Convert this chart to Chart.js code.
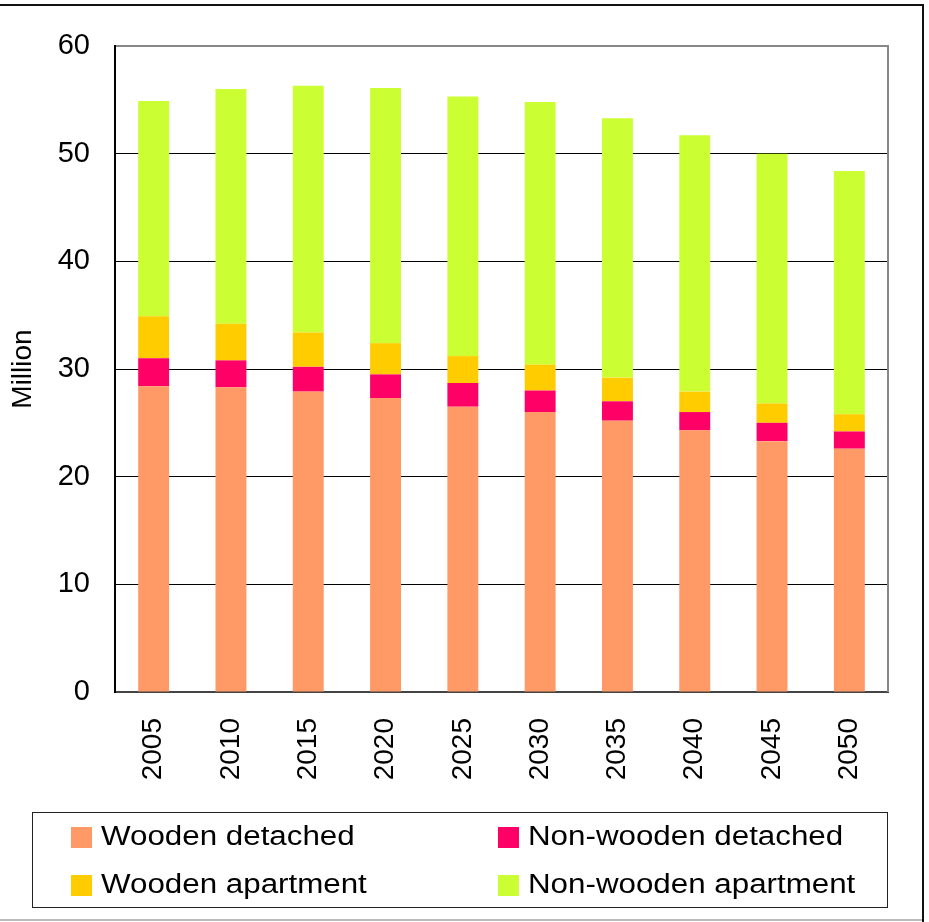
<!DOCTYPE html>
<html>
<head>
<meta charset="utf-8">
<script src="https://cdn.jsdelivr.net/npm/chart.js@4/dist/chart.umd.min.js"></script>
<style>
  html, body { margin: 0; padding: 0; background: #fff; }
  #wrap { width: 929px; height: 922px; position: relative; }
</style>
</head>
<body>
<div id="wrap"><canvas id="chart" width="929" height="922"></canvas></div>
<script>
const years = ["2005", "2010", "2015", "2020", "2025", "2030", "2035", "2040", "2045", "2050"];
const woodenDetached = [28.4, 28.3, 27.9, 27.3, 26.5, 26.0, 25.2, 24.3, 23.3, 22.6];
const nonWoodenDetached = [2.6, 2.5, 2.3, 2.2, 2.2, 2.0, 1.8, 1.7, 1.7, 1.6];
const woodenApartment = [3.9, 3.4, 3.2, 2.9, 2.5, 2.4, 2.2, 1.9, 1.8, 1.6];
const nonWoodenApartment = [20.0, 21.8, 22.9, 23.7, 24.1, 24.4, 24.1, 23.8, 23.2, 22.6];
const yTicks = [0, 10, 20, 30, 40, 50, 60];

const FONT = "'Liberation Sans', Arial, sans-serif";

// two-column legend in a box, plus the outer frame
const boxLegend = {
  id: "boxLegend",
  afterDraw(chart) {
    const ctx = chart.ctx;
    const area = chart.chartArea;
    ctx.save();

    // right edge of the plot frame
    ctx.strokeStyle = "#888";
    ctx.lineWidth = 2;
    ctx.beginPath();
    ctx.moveTo(area.right, area.top - 1);
    ctx.lineTo(area.right, area.bottom);
    ctx.stroke();

    // outer frame
    ctx.strokeStyle = "#111";
    ctx.lineWidth = 2;
    ctx.beginPath();
    ctx.moveTo(0, 5);
    ctx.lineTo(923, 5);
    ctx.lineTo(923, 922);
    ctx.stroke();
    ctx.strokeStyle = "#bbb";
    ctx.beginPath();
    ctx.moveTo(0, 920);
    ctx.lineTo(922, 920);
    ctx.stroke();

    // legend box
    ctx.strokeStyle = "#222";
    ctx.lineWidth = 1;
    ctx.strokeRect(32.5, 812.5, 855, 95);

    const cols = [71, 498];
    const rows = [837, 885];
    ctx.font = "27px " + FONT;
    ctx.textBaseline = "middle";
    chart.data.datasets.forEach((ds, i) => {
      const x = cols[i % 2];
      const y = rows[Math.floor(i / 2)];
      ctx.fillStyle = ds.backgroundColor;
      ctx.fillRect(x, y - 10, 21, 21);
      ctx.fillStyle = "#000";
      ctx.save();
      ctx.translate(x + 30, y + 1);
      ctx.scale(1.16, 1);
      ctx.fillText(ds.label, 0, 0);
      ctx.restore();
    });
    ctx.restore();
  }
};

new Chart(document.getElementById("chart"), {
  type: "bar",
  data: {
    labels: years,
    datasets: [
      { label: "Wooden detached", data: woodenDetached, backgroundColor: "#FF9966" },
      { label: "Non-wooden detached", data: nonWoodenDetached, backgroundColor: "#FF0066" },
      { label: "Wooden apartment", data: woodenApartment, backgroundColor: "#FFCC00" },
      { label: "Non-wooden apartment", data: nonWoodenApartment, backgroundColor: "#CCFF33" },
    ],
  },
  options: {
    responsive: false,
    animation: false,
    layout: { padding: { top: 46, right: 41, left: 0, bottom: 0 } },
    datasets: {
      bar: { categoryPercentage: 0.8, barPercentage: 0.5, borderWidth: 0 },
    },
    plugins: {
      legend: { display: false },
      tooltip: { enabled: false },
    },
    scales: {
      x: {
        stacked: true,
        afterFit: (scale) => { scale.height = 230; },
        grid: { display: false, drawTicks: false },
        border: { color: "#444", width: 2 },
        ticks: {
          minRotation: 90,
          maxRotation: 90,
          padding: 26,
          color: "#000",
          font: { family: FONT, size: 28 },
        },
      },
      y: {
        stacked: true,
        min: 0,
        max: 60,
        afterFit: (scale) => { scale.width = 115; },
        afterBuildTicks: (scale) => { scale.ticks = yTicks.map((v) => ({ value: v })); },
        grid: {
          drawTicks: false,
          color: (c) => (c.tick && c.tick.value === 60 ? "#888" : "#000"),
          lineWidth: (c) => (c.tick && c.tick.value === 60 ? 2 : 1),
        },
        border: { color: "#000", width: 2 },
        ticks: {
          padding: 25,
          color: "#000",
          font: { family: FONT, size: 29 },
        },
        title: {
          display: true,
          text: "Million",
          color: "#000",
          padding: { top: 6, bottom: 0 },
          font: { family: FONT, size: 28 },
        },
      },
    },
  },
  plugins: [boxLegend],
});
</script>
</body>
</html>
